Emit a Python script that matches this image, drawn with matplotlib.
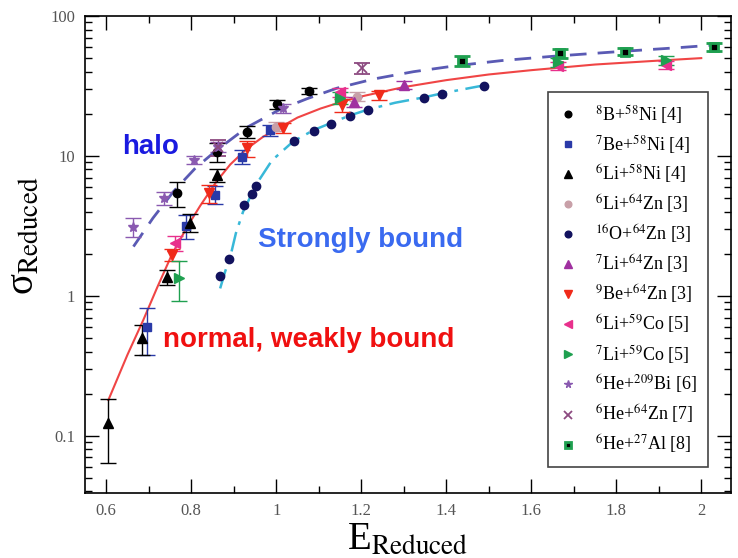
import matplotlib
matplotlib.use("Agg")
import matplotlib.pyplot as plt
from matplotlib.lines import Line2D

plt.rcParams['font.family'] = ['Liberation Serif', 'DejaVu Serif']
plt.rcParams['mathtext.fontset'] = 'stix'

# curvas de referência
x_normal = [0.605, 0.65, 0.687, 0.72, 0.754, 0.79, 0.821, 0.86, 0.892, 0.93, 0.969, 1.009, 1.05, 1.104, 1.151,
            1.2, 1.299, 1.4, 1.5, 1.6, 1.75, 1.9, 2.0]
y_normal = [0.18, 0.38, 0.67, 1.15, 1.96, 3.1, 4.4, 6.6, 8.7, 11.2, 13.7, 16.0, 18.8, 21.8, 24.2,
            26.6, 31.0, 34.8, 38.2, 41.0, 45.0, 48.0, 50.0]

x_halo = [0.664, 0.71, 0.758, 0.81, 0.86, 0.931, 1.009, 1.072, 1.143, 1.23, 1.323, 1.42, 1.53, 1.65, 1.8, 1.95, 2.03]
y_halo = [2.25, 3.6, 5.56, 8.2, 11.0, 16.0, 21.5, 25.6, 30.5, 35.5, 40.0, 44.0, 48.0, 51.5, 55.5, 59.5, 62.0]

x_strong = [0.868, 0.88, 0.892, 0.905, 0.922, 0.955, 0.99, 1.04, 1.088, 1.131, 1.174, 1.217, 1.28, 1.347, 1.39, 1.49]
y_strong = [1.13, 1.5, 1.91, 2.8, 4.0, 6.4, 9.3, 12.7, 15.3, 17.3, 19.5, 21.5, 24.0, 26.2, 28.0, 32.0]

# dados experimentais: (x, y, erro)
b8_ni = ([0.766, 0.86, 0.931, 1.002, 1.078], [5.4, 10.7, 14.9, 23.5, 29.3], [1.1, 1.6, 1.5, 1.8, 1.5])
be7_ni = ([0.696, 0.788, 0.856, 0.919, 0.986], [0.6, 3.16, 5.3, 9.9, 15.3], [0.22, 0.6, 0.8, 1.2, 1.4])
li6_ni = ([0.605, 0.684, 0.743, 0.798, 0.86], [0.124, 0.5, 1.37, 3.34, 7.3], [0.06, 0.12, 0.17, 0.5, 0.8])
li6_zn = ([1.0, 1.19], [16.2, 26.5], [1.2, 2.0])
o16_zn = ([0.867, 0.888, 0.923, 0.943, 0.953, 1.042, 1.088, 1.129, 1.173, 1.216, 1.347, 1.39, 1.488],
          [1.39, 1.83, 4.47, 5.35, 6.1, 12.7, 15.1, 16.8, 19.3, 21.3, 25.8, 27.7, 31.6])
li7_zn = ([1.182, 1.3], [24.4, 32.2], [2.0, 2.0])
be9_zn = ([0.755, 0.841, 0.931, 1.017, 1.154, 1.241], [1.96, 5.4, 11.3, 15.8, 23.2, 27.2], [0.2, 0.8, 1.5, 1.3, 2.5, 2.0])
li6_co = ([0.762, 1.15, 1.664, 1.918], [2.38, 28.5, 44.0, 45.0], [0.3, 2.0, 3.0, 3.0])
li7_co = ([0.77, 1.151, 1.664, 1.918], [1.34, 26.0, 47.0, 48.5], [0.42, 2.5, 3.5, 3.5])
he6_bi = ([0.664, 0.735, 0.806, 0.864, 1.017], [3.13, 4.98, 9.36, 11.6, 21.9], [0.5, 0.5, 0.6, 1.0, 1.5])
he6_zn = ([0.862, 1.202], [11.5, 42.3], [1.5, 4.0])
he6_al = ([1.437, 1.668, 1.821, 2.029], [48.0, 54.1, 55.6, 60.2], [4.0, 4.0, 3.0, 4.0])

fig = plt.figure(figsize=(7.38, 5.58), dpi=100)
ax = fig.add_axes([85/738, 65/558, 646/738, 477/558])

ax.plot(x_normal, y_normal, color='#f04545', lw=1.5, zorder=2)
ax.plot(x_halo, y_halo, color='#5a5ab4', lw=2, ls=(0, (6, 4)), zorder=2)
ax.plot(x_strong, y_strong, color='#38b8d8', lw=1.8, ls=(0, (8, 3, 1.5, 3)), zorder=2)

handles = []

def serie(d, cor, marcador, rotulo, ms=6, mfc=None, mec=None, mew=1):
    mfc = mfc if mfc else cor
    mec = mec if mec else cor
    if len(d) == 3:
        ax.errorbar(d[0], d[1], yerr=d[2], fmt=marcador, color=cor, ms=ms,
                    mfc=mfc, mec=mec, mew=mew, ecolor=cor, elinewidth=1,
                    capsize=6, capthick=1.2, zorder=3)
    else:
        ax.plot(d[0], d[1], marcador, ms=ms, mfc=mfc, mec=mec, mew=mew, zorder=3)
    handles.append(Line2D([], [], ls='none', marker=marcador, ms=ms * 0.8, mfc=mfc,
                          mec=mec, mew=mew, label=rotulo))

serie(b8_ni, 'black', 'o', r'$^{8}$B+$^{58}$Ni [4]')
serie(be7_ni, '#2a3aa8', 's', r'$^{7}$Be+$^{58}$Ni [4]')
serie(li6_ni, 'black', '^', r'$^{6}$Li+$^{58}$Ni [4]', ms=7)
serie(li6_zn, '#c8a0a8', 'o', r'$^{6}$Li+$^{64}$Zn [3]')
serie(o16_zn, '#12125e', 'o', r'$^{16}$O+$^{64}$Zn [3]')
serie(li7_zn, '#a030a0', '^', r'$^{7}$Li+$^{64}$Zn [3]', ms=7)
serie(be9_zn, '#f02a1a', 'v', r'$^{9}$Be+$^{64}$Zn [3]', ms=7)
serie(li6_co, '#e8308c', '<', r'$^{6}$Li+$^{59}$Co [5]', ms=7)
serie(li7_co, '#1fa050', '>', r'$^{7}$Li+$^{59}$Co [5]', ms=7)
serie(he6_bi, '#8a5ab0', '*', r'$^{6}$He+$^{209}$Bi [6]', ms=7)
serie(he6_zn, '#8c4a80', 'x', r'$^{6}$He+$^{64}$Zn [7]', ms=7, mew=1.3)
serie(he6_al, '#1fa050', 's', r'$^{6}$He+$^{27}$Al [8]', ms=6, mfc='black', mew=2)

ax.text(0.638, 11.6, 'halo', color='#1a1ae0', fontsize=20, fontweight='bold',
        family='Liberation Sans', va='center')
ax.text(0.958, 2.51, 'Strongly bound', color='#3a6af0', fontsize=20, fontweight='bold',
        family='Liberation Sans', va='center')
ax.text(0.734, 0.485, 'normal, weakly bound', color='#f01010', fontsize=20, fontweight='bold',
        family='Liberation Sans', va='center')

ax.set_yscale('log')
ax.set_xlim(0.55, 2.07)
ax.set_ylim(0.039, 100)
ax.set_xticks([0.6, 0.8, 1.0, 1.2, 1.4, 1.6, 1.8, 2.0])
ax.set_xticklabels(['0.6', '0.8', '1', '1.2', '1.4', '1.6', '1.8', '2'])
ax.set_xticks([0.7, 0.9, 1.1, 1.3, 1.5, 1.7, 1.9], minor=True)
ax.set_yticks([0.1, 1, 10, 100])
ax.set_yticklabels(['0.1', '1', '10', '100'])

ax.tick_params(which='both', direction='in', top=True, right=True, labelsize=12,
               labelcolor='#555555', width=1)
ax.tick_params(which='major', length=10, pad=7)
ax.tick_params(which='minor', length=5)
for s in ax.spines.values():
    s.set_linewidth(1.2)

ax.set_xlabel(r'E$_{\mathrm{Reduced}}$', fontsize=28, labelpad=2)
ax.set_ylabel(r'σ$_{\mathrm{Reduced}}$', fontsize=28)
ax.yaxis.set_label_coords(-0.065, 0.54)

leg = ax.legend(handles=handles, loc='lower right', bbox_to_anchor=(0.964, 0.0545), fontsize=13,
                frameon=True, fancybox=False, edgecolor='#444444', labelspacing=0.39,
                handlelength=1.0, handletextpad=1.0, borderpad=0.6, borderaxespad=0,
                framealpha=1)
leg.get_frame().set_linewidth(1.2)

fig.savefig('out.png', dpi=100)
